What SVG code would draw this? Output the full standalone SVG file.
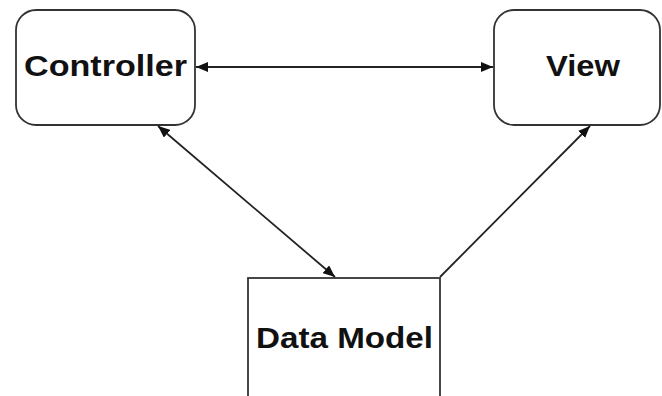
<svg xmlns="http://www.w3.org/2000/svg" width="662" height="396" viewBox="0 0 662 396">
  <style>
    .box { fill: #ffffff; stroke: #333333; stroke-width: 1.8; }
    .lbl { font-family: "Liberation Sans", Arial, sans-serif; font-weight: bold; font-size: 29px; fill: #111111; text-anchor: middle; }
    .conn { stroke: #222222; stroke-width: 1.8; fill: none; }
  </style>
  <defs>
    <marker id="ah" viewBox="0 0 12 10" refX="12" refY="5" markerWidth="12" markerHeight="10" markerUnits="userSpaceOnUse" orient="auto-start-reverse">
      <path d="M0,0 L12,5 L0,10 Z" fill="#111111"/>
    </marker>
  </defs>
  <rect width="662" height="396" fill="#ffffff"/>
  <g id="controller">
    <rect class="box" x="16" y="10" width="179" height="115" rx="20" ry="20"/>
    <text class="lbl" x="105.5" y="76" textLength="163" lengthAdjust="spacingAndGlyphs">Controller</text>
  </g>
  <g id="view">
    <rect class="box" x="494" y="10" width="166" height="115" rx="20" ry="20"/>
    <text class="lbl" x="583" y="76" textLength="74" lengthAdjust="spacingAndGlyphs">View</text>
  </g>
  <g id="data-model">
    <rect class="box" x="248" y="278" width="192" height="130"/>
    <text class="lbl" x="344.5" y="348" textLength="177" lengthAdjust="spacingAndGlyphs">Data Model</text>
  </g>
  <g id="connectors">
    <line class="conn" x1="196" y1="67" x2="493" y2="67" marker-start="url(#ah)" marker-end="url(#ah)"/>
    <line class="conn" x1="158" y1="126" x2="335" y2="277" marker-start="url(#ah)" marker-end="url(#ah)"/>
    <line class="conn" x1="440" y1="277" x2="590" y2="126" marker-end="url(#ah)"/>
  </g>
</svg>
